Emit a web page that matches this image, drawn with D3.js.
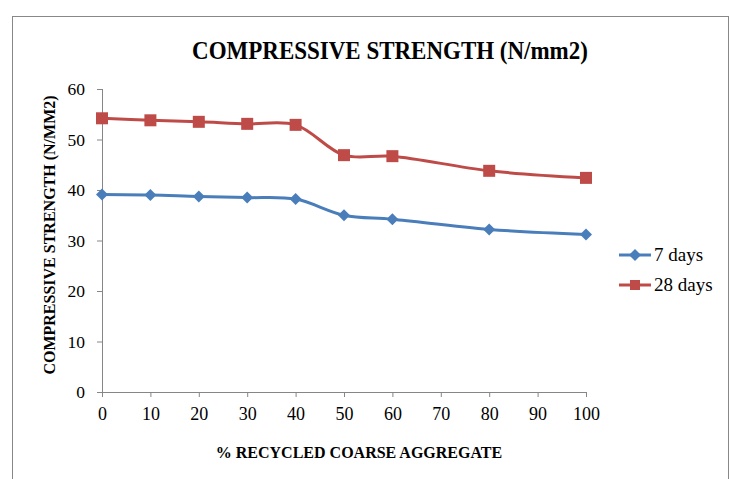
<!DOCTYPE html>
<html><head><meta charset="utf-8">
<script src="https://cdn.jsdelivr.net/npm/d3@7"></script>
<style>body{margin:0;background:#fff}svg{display:block}text{font-family:"Liberation Serif","Times New Roman",serif}</style>
</head><body><svg id="c" width="733" height="479"></svg>
<script>
const xValues = [0, 10, 20, 30, 40, 50, 60, 80, 100];
const days7 = [39.1, 39.0, 38.7, 38.5, 38.2, 35.0, 34.2, 32.2, 31.2];
const days28 = [54.2, 53.8, 53.5, 53.1, 52.9, 46.9, 46.7, 43.8, 42.4];
const xTicks = [0, 10, 20, 30, 40, 50, 60, 70, 80, 90, 100];
const yTicks = [0, 10, 20, 30, 40, 50, 60];
const seriesNames = ["7 days", "28 days"];
const seriesColors = ["#4A7EBB", "#BE4B48"];

const svg = d3.select("#c");
svg.append("rect").attr("x", 12.5).attr("y", 16.5).attr("width", 716).attr("height", 480)
  .attr("fill", "none").attr("stroke", "#888").attr("stroke-width", 1);

const x = d3.scaleLinear().domain([0, 100]).range([102, 586]);
const y = d3.scaleLinear().domain([0, 60]).range([392, 89]);

const xAxis = svg.append("g").attr("transform", "translate(0,392)")
  .call(d3.axisBottom(x).tickValues(xTicks).tickSize(5).tickPadding(10));
const yAxis = svg.append("g").attr("transform", "translate(102,0)")
  .call(d3.axisLeft(y).tickValues(yTicks).tickSize(5).tickPadding(12));
[xAxis, yAxis].forEach(a => {
  a.attr("font-family", null);
  a.selectAll("path,line").attr("stroke", "#868686").attr("stroke-width", 1);
  a.selectAll("text").attr("fill", "#000");
});
xAxis.selectAll("text").attr("font-size", 18);
yAxis.selectAll("text").attr("font-size", 17.5);
xAxis.select(".domain").attr("d", "M" + x(0) + ",0.5H" + x(100));
yAxis.select(".domain").attr("d", "M0.5," + y(0) + "V" + y(60));

svg.append("text").attr("transform", "translate(390,59) scale(1,1.1)").attr("text-anchor", "middle")
  .attr("font-size", 23).attr("font-weight", "bold").text("COMPRESSIVE STRENGTH (N/mm2)");
svg.append("text").attr("x", 359).attr("y", 458).attr("text-anchor", "middle")
  .attr("font-size", 16).attr("font-weight", "bold").text("% RECYCLED COARSE AGGREGATE");
svg.append("text").attr("transform", "translate(55,235) rotate(-90)").attr("text-anchor", "middle")
  .attr("font-size", 16).attr("font-weight", "bold").text("COMPRESSIVE STRENGTH (N/MM2)");

const line = d3.line().x(d => x(d[0])).y(d => y(d[1])).curve(d3.curveCatmullRom.alpha(0.5));
const allSeries = [days7, days28];
function marker(g, i, cx, cy) {
  if (i === 0) {
    g.append("path").attr("d", `M${cx},${cy-6}L${cx+6},${cy}L${cx},${cy+6}L${cx-6},${cy}Z`)
      .attr("fill", seriesColors[i]);
  } else {
    g.append("rect").attr("x", cx-6).attr("y", cy-6).attr("width", 12).attr("height", 12)
      .attr("fill", seriesColors[i]);
  }
}
allSeries.forEach((vals, i) => {
  const pts = xValues.map((xv, j) => [xv, vals[j]]);
  svg.append("path").attr("d", line(pts)).attr("fill", "none")
    .attr("stroke", seriesColors[i]).attr("stroke-width", 3);
  const g = svg.append("g");
  pts.forEach(p => marker(g, i, x(p[0]), y(p[1])));
});

seriesNames.forEach((n, i) => {
  const ly = 255 + i * 30;
  svg.append("line").attr("x1", 619).attr("x2", 651).attr("y1", ly).attr("y2", ly)
    .attr("stroke", seriesColors[i]).attr("stroke-width", 3);
  const g = svg.append("g");
  if (i === 0) marker(g, i, 635, ly); else {
    g.append("rect").attr("x", 630).attr("y", ly-5).attr("width", 10).attr("height", 10).attr("fill", seriesColors[i]);
  }
  svg.append("text").attr("x", 654).attr("y", ly + 6).attr("font-size", 19).text(n);
});
</script></body></html>
